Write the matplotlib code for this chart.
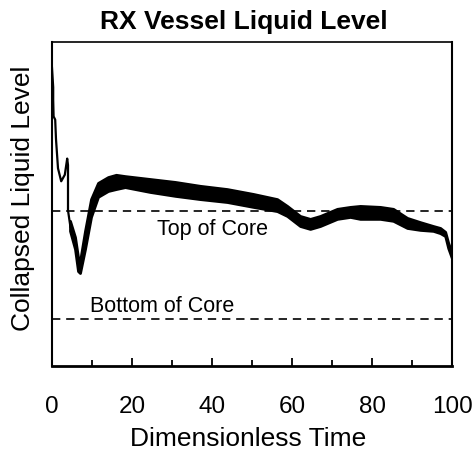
import matplotlib.pyplot as plt

plt.rcParams["font.family"] = ["Liberation Sans", "DejaVu Sans"]

# =========================
# DATA
# =========================

# early, thin part of the trace
t_early = [0, 0.3, 0.3, 0.4, 0.8, 1.0, 1.5, 2.3, 3.2, 3.8, 4.0, 4.0, 4.6]
level_early = [92, 86, 82, 77, 76, 70, 61, 57, 59, 64, 62, 48, 43]

# noisy band afterwards: upper / lower envelope
t_band = [4.5, 5.75, 6.5, 7.0, 8.25, 9.75, 11.5, 14.0, 16.0, 18.25, 24.5,
          30.75, 37.0, 43.75, 50.25, 56.25, 58.75, 62.0, 64.5, 67.0, 71.25,
          74.5, 77.0, 82.0, 85.25, 88.75, 92.0, 95.25, 97.0, 98.25, 99.0, 100]
level_upper = [44.8, 39.8, 33.6, 32.4, 41.7, 51.5, 56.5, 58.3, 59.0, 58.6, 57.7,
               56.8, 55.6, 54.6, 53.1, 51.5, 49.4, 46.3, 45.4, 46.3, 48.5,
               49.1, 49.4, 49.1, 48.5, 45.7, 44.4, 43.2, 42.6, 41.4, 38.0, 34.6]
level_lower = [41.7, 36.1, 29.3, 28.7, 36.1, 46.0, 52.2, 54.0, 54.6, 55.2, 53.7,
               52.5, 51.5, 50.6, 49.1, 47.8, 46.3, 43.2, 42.3, 43.2, 45.4,
               46.0, 45.4, 45.4, 44.8, 42.6, 42.0, 41.7, 41.0, 40.1, 36.4, 33.0]

TOP_OF_CORE = 47.8
BOTTOM_OF_CORE = 14.5

# =========================
# PLOT
# =========================

fig = plt.figure(figsize=(4.77, 4.56), dpi=100)
ax = fig.add_axes([0.109, 0.195, 0.839, 0.711])

ax.plot(t_early, level_early, color="black", lw=1.6)
ax.fill_between(t_band, level_lower, level_upper, color="black", lw=2.0,
                edgecolor="black")

ax.axhline(TOP_OF_CORE, color="black", lw=1.2, ls=(0, (5, 3.5)))
ax.axhline(BOTTOM_OF_CORE, color="black", lw=1.2, ls=(0, (5, 3.5)))

ax.text(26.3, 40.6, "Top of Core", fontsize=15.5, va="baseline", ha="left")
ax.text(9.6, 17.0, "Bottom of Core", fontsize=15.5, va="baseline", ha="left")

ax.set_xlim(0, 100)
ax.set_ylim(0, 100)
ax.set_xticks([0, 20, 40, 60, 80, 100])
ax.set_xticks([10, 30, 50, 70, 90], minor=True)
ax.set_yticks([])
ax.tick_params(axis="x", which="major", direction="in", length=6, width=1.3,
               labelsize=17.5, pad=21)
ax.tick_params(axis="x", which="minor", direction="in", length=4, width=1.3)

ax.spines["bottom"].set_linewidth(2.0)
ax.spines["left"].set_linewidth(1.5)
ax.spines["right"].set_linewidth(1.5)
ax.spines["top"].set_linewidth(1.2)

ax.set_title("RX Vessel Liquid Level", fontsize=19, fontweight="bold",
             pad=10, x=0.48)
ax.set_xlabel("Dimensionless Time", fontsize=19, labelpad=6, x=0.49)
ax.set_ylabel("Collapsed Liquid Level", fontsize=19, labelpad=12, y=0.52)

fig.savefig("out.png", dpi=100)
